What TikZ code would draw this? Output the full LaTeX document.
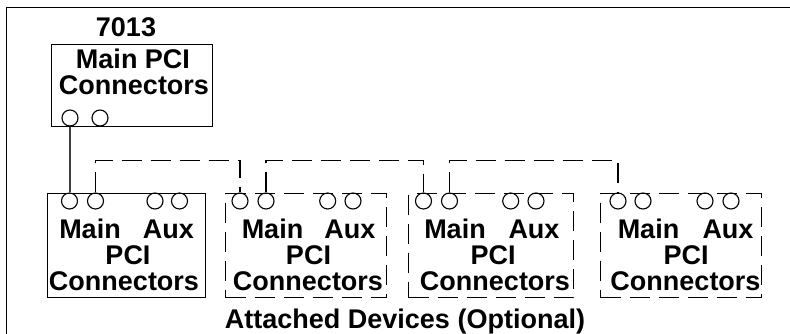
\documentclass[tikz,border=0pt]{standalone}
\usepackage{fontspec}
\setmainfont{Liberation Sans}
\begin{document}
\begin{tikzpicture}[x=1pt,y=-1pt,
  frameline/.style={line width=1.6pt},
  box/.style={draw, line width=1.4pt, rectangle, inner sep=0pt, anchor=north west},
  dbox/.style={box, dash pattern=on 20pt off 9pt},
  port/.style={circle, draw, line width=1.1pt, minimum size=16pt, inner sep=0pt},
  lbl/.style={font=\fontsize{27}{26}\selectfont\bfseries, inner sep=0pt, anchor=base},
  link/.style={line width=1.5pt, draw=black!75},
  dlink/.style={line width=1.4pt, dash pattern=on 20pt off 9pt}]
\useasboundingbox (0,0) rectangle (790,334);
\begin{scope}
  \clip (0,0) rectangle (790,334);
  \draw[frameline] (6.5,360) -- (6.5,7.5) -- (820,7.5);
\end{scope}
% main unit
\node[lbl] (tnum) at (126,37) {7013};
\node[box, minimum width=161pt, minimum height=82pt] (top) at (51,44) {};
\node[lbl] (tl1) at (133,69) {Main PCI};
\node[lbl] (tl2) at (134,95) {Connectors};
\node[port] (tp1) at (70,118) {};
\node[port] (tp2) at (100,118) {};
% attached devices
\node[box,  minimum width=158pt, minimum height=104pt] (b1) at (47,193) {};
\node[dbox, minimum width=161pt, minimum height=104pt] (b2) at (225,193) {};
\node[dbox, minimum width=165pt, minimum height=104pt] (b3) at (408,193) {};
\node[dbox, minimum width=161pt, minimum height=104pt] (b4) at (600,193) {};
\foreach \i/\a/\b/\c/\d in {1/69.5/95.5/155/179.5, 2/240/266/327.7/353, 3/423.5/449.5/510.7/536, 4/618/643/705/731}{
  \node[port] (b\i p1) at (\a,201) {};
  \node[port] (b\i p2) at (\b,201) {};
  \node[port] (b\i p3) at (\c,201) {};
  \node[port] (b\i p4) at (\d,201) {};
}
\foreach \i/\m/\x/\p/\q in {1/90/168.5/128/124, 2/272.5/350/308.5/308, 3/455/534/493/495, 4/648.5/728/686/685.5}{
  \node[lbl] (m\i) at (\m,238) {Main};
  \node[lbl] (x\i) at (\x,238) {Aux};
  \node[lbl] (p\i) at (\p,264) {PCI};
  \node[lbl] (c\i) at (\q,290) {Connectors};
}
\node[lbl] (cap) at (405,328) {Attached Devices (Optional)};
% connectors
\draw[link] (tp1.south) -- (tp1.south |- b1p1.north);
\draw[dlink] (b1p2.north) -- ++(0,-32) -| (b2p1.north);
\draw[dlink] (b2p2.north) -- ++(0,-32) -| (b3p1.north);
\draw[dlink] (b3p2.north) -- ++(0,-32) -| (b4p1.north);
\end{tikzpicture}
\end{document}
